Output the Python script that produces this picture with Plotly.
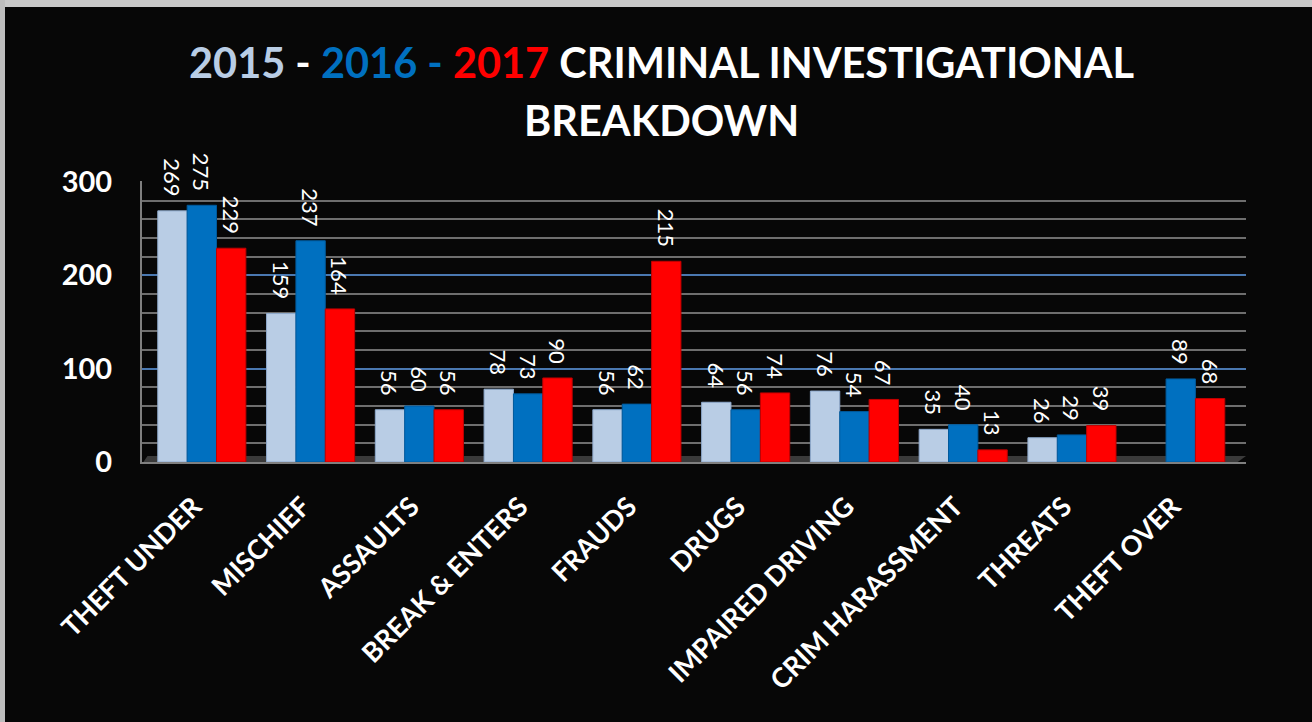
import plotly.graph_objects as go

categories = ["THEFT UNDER", "MISCHIEF", "ASSAULTS", "BREAK & ENTERS", "FRAUDS",
              "DRUGS", "IMPAIRED DRIVING", "CRIM HARASSMENT", "THREATS", "THEFT OVER"]
y2015 = [269, 159, 56, 78, 56, 64, 76, 35, 26, None]
y2016 = [275, 237, 60, 73, 62, 56, 54, 40, 29, 89]
y2017 = [229, 164, 56, 90, 215, 74, 67, 13, 39, 68]
series_names = ["2015", "2016", "2017"]
series_colors = ["#b9cde5", "#0070c0", "#ff0000"]
edge_colors = ["#8ea9cc", "#005a9c", "#c00000"]
y_ticks = [0, 100, 200, 300]

FONT = "Lato"
PLOT_TOP, PLOT_BOTTOM = 181, 462
PH = PLOT_BOTTOM - PLOT_TOP
PL, PR = 142, 1246
PW = PR - PL

fig = go.Figure()
for name, vals, col, edge in zip(series_names, [y2015, y2016, y2017], series_colors, edge_colors):
    fig.add_trace(go.Bar(
        name=name, x=categories, y=vals,
        marker=dict(color=col, line=dict(color=edge, width=1)),
        text=[("" if v is None else f"{v}&nbsp;&nbsp;") for v in vals],
        textposition="outside", textangle=90, cliponaxis=False,
        constraintext="none",
        textfont=dict(family=FONT, size=22, color="white"),
    ))

fig.update_layout(
    width=1312, height=722,
    paper_bgcolor="#070707", plot_bgcolor="#070707",
    margin=dict(l=PL, r=1312 - PR, t=PLOT_TOP, b=722 - PLOT_BOTTOM),
    barmode="group", bargap=0.19, bargroupgap=0.0,
    showlegend=False,
    font=dict(family=FONT, color="white"),
    xaxis=dict(
        range=[-0.55, 9.6], tickangle=-45,
        tickfont=dict(family=FONT, size=27, color="white", weight="bold"),
        showgrid=False, showline=True, linecolor="#7f7f7f", linewidth=2,
        ticks="", ticklabelstandoff=16, ticklabelshift=-8,
    ),
    yaxis=dict(
        range=[0, 301], tickvals=y_ticks,
        tickfont=dict(family=FONT, size=29, color="white", weight="bold"),
        showgrid=True, gridcolor="#4a78b0", gridwidth=1.5,
        minor=dict(dtick=20, showgrid=True, gridcolor="#6e6e6e", gridwidth=1.5),
        showline=True, linecolor="#7f7f7f", linewidth=2,
        zeroline=False, ticks="", ticklabelstandoff=22,
    ),
    shapes=[
        # floor platform under the bars
        dict(type="path", xref="paper", yref="paper",
             path=f"M 0,{-2/PH} L 0.99,{-2/PH} L 1.0,{6/PH} L 0.005,{6/PH} Z",
             fillcolor="#3a3a3a", line=dict(width=0), layer="below"),
        # page border strips
        dict(type="rect", xref="paper", yref="paper", x0=-PL / PW, x1=(1312 - PL) / PW,
             y0=1.0 + (PLOT_TOP - 7) / PH, y1=1.0 + PLOT_TOP / PH,
             fillcolor="#c8c8c8", line=dict(width=0), layer="above"),
        dict(type="rect", xref="paper", yref="paper", x0=-PL / PW, x1=-(PL - 5) / PW,
             y0=-(722 - PLOT_BOTTOM) / PH, y1=1.0 + PLOT_TOP / PH,
             fillcolor="#bdbdbd", line=dict(width=0), layer="above"),
    ],
)

title_line1 = ("<span style='color:#b9cde5'>2015</span> - "
               "<span style='color:#0070c0'>2016 - </span>"
               "<span style='color:#ff0000'>2017</span> CRIMINAL INVESTIGATIONAL")
fig.add_annotation(text=title_line1, xref="paper", yref="paper", x=(661 - PL) / PW,
                   y=1 + (PLOT_TOP - 62) / PH,
                   xanchor="center", yanchor="middle", showarrow=False,
                   font=dict(family=FONT, size=41.5, color="white", weight="bold"))
fig.add_annotation(text="BREAKDOWN", xref="paper", yref="paper", x=(661 - PL) / PW,
                   y=1 + (PLOT_TOP - 120) / PH,
                   xanchor="center", yanchor="middle", showarrow=False,
                   font=dict(family=FONT, size=41.5, color="white", weight="bold"))

fig.write_html("out.html")
